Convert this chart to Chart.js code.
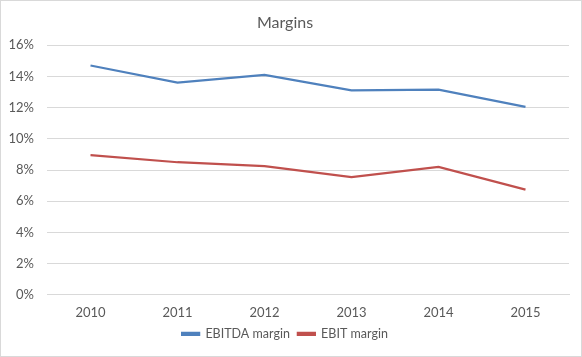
<!DOCTYPE html>
<html><head><meta charset="utf-8">
<script src="https://cdn.jsdelivr.net/npm/chart.js@4/dist/chart.umd.min.js"></script>
<style>
html,body{margin:0;padding:0;background:#fff;}
#wrap{width:580px;height:355px;border:1px solid #d9d9d9;}
</style></head><body>
<div id="wrap"><canvas id="c" width="580" height="355"></canvas></div>
<script>
const categories = ["2010","2011","2012","2013","2014","2015"];
const ebitdaMargin = [14.7, 13.6, 14.1, 13.1, 13.15, 12.05];
const ebitMargin = [8.95, 8.5, 8.25, 7.55, 8.2, 6.75];
const seriesNames = ["EBITDA margin","EBIT margin"];
const titleText = "Margins";
const yMin = 0, yMax = 16, yStep = 2;

const txt = '#595959';
new Chart(document.getElementById('c'), {
  type: 'line',
  data: {
    labels: categories,
    datasets: [
      {label: seriesNames[0], data: ebitdaMargin, borderColor:'#4F81BD', backgroundColor:'#4F81BD', borderWidth:2.25, pointRadius:0, tension:0},
      {label: seriesNames[1], data: ebitMargin, borderColor:'#C0504D', backgroundColor:'#C0504D', borderWidth:2.25, pointRadius:0, tension:0}
    ]
  },
  options: {
    responsive:false, animation:false,
    layout:{padding:{left:0,right:12,top:0,bottom:6}},
    plugins:{
      title:{display:true,text:titleText,color:txt,font:{family:'Lato',size:16,weight:'normal'},padding:{top:12,bottom:13}},
      legend:{position:'bottom',labels:{color:txt,font:{family:'Lato',size:12.5},boxWidth:17,boxHeight:2,padding:8}},
      tooltip:{enabled:false}
    },
    scales:{
      x:{offset:true,grid:{display:false,offset:true},border:{color:'#d9d9d9'},
        ticks:{color:txt,font:{family:'Lato',size:13},padding:2,maxRotation:0,minRotation:0,autoSkip:false},
        afterFit(s){s.height -= 3;}},
      y:{min:yMin,max:yMax,ticks:{stepSize:yStep,color:txt,font:{family:'Lato',size:13},padding:13,callback:v=>v+'%'},
        grid:{color:'#d9d9d9',drawTicks:false,lineWidth:1},border:{display:false},
        afterFit(s){s.width=46;}}
    }
  }
});
</script></body></html>
